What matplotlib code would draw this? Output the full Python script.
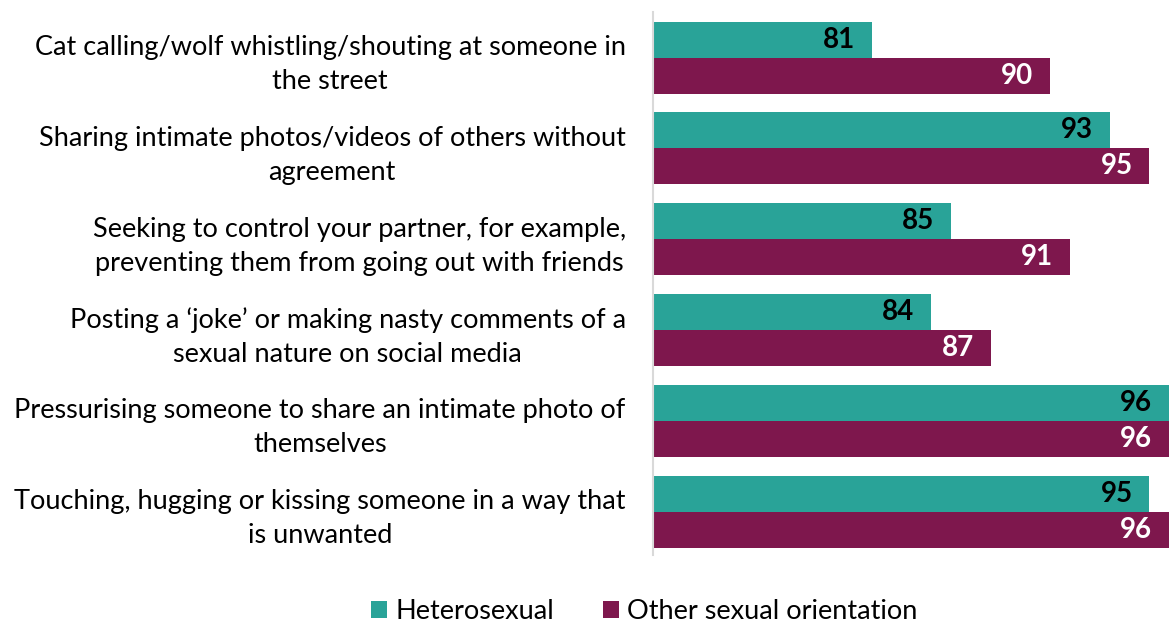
import matplotlib.pyplot as plt
import matplotlib.transforms as mtransforms
import numpy as np

plt.rcParams['font.family'] = ['Lato', 'DejaVu Sans']

categories = [
    "Cat calling/wolf whistling/shouting at someone in\nthe street",
    "Sharing intimate photos/videos of others without\nagreement",
    "Seeking to control your partner, for example,\npreventing them from going out with friends",
    "Posting a \u2018joke\u2019 or making nasty comments of a\nsexual nature on social media",
    "Pressurising someone to share an intimate photo of\nthemselves",
    "Touching, hugging or kissing someone in a way that\nis unwanted",
]
hetero = [81, 93, 85, 84, 96, 95]
other = [90, 95, 91, 87, 96, 96]

teal = '#29A398'
maroon = '#7E174D'

fig = plt.figure(figsize=(11.69, 6.23), dpi=100)
ax = fig.add_axes([0.559, 0.109, 0.441, 0.872])

y = np.arange(len(categories))
h = 0.396
xmin = 70
b1 = ax.barh(y - h/2, np.array(hetero) - xmin, left=xmin, height=h, color=teal, label='Heterosexual')
b2 = ax.barh(y + h/2, np.array(other) - xmin, left=xmin, height=h, color=maroon, label='Other sexual orientation')

for yi, v in zip(y, hetero):
    ax.annotate(str(v), (v, yi - h/2), xytext=(-12, 0), textcoords='offset points',
                ha='right', va='center', fontsize=20, fontweight='bold', color='black')
for yi, v in zip(y, other):
    ax.annotate(str(v), (v, yi + h/2), xytext=(-12, 0), textcoords='offset points',
                ha='right', va='center', fontsize=20, fontweight='bold', color='white')

ax.set_xlim(xmin, 96)
ax.set_ylim(5.476, -0.503)
ax.set_yticks(y)
ax.set_yticklabels(categories, fontsize=19.5, ha='right', linespacing=1.45)
# nudge the category labels up a few pixels
shift = mtransforms.ScaledTranslation(0, 4 / 100, fig.dpi_scale_trans)
for lab in ax.get_yticklabels():
    lab.set_multialignment('center')
    lab.set_transform(lab.get_transform() + shift)
ax.tick_params(axis='y', length=0, pad=20)
ax.set_xticks([])
for s in ['top', 'right', 'bottom']:
    ax.spines[s].set_visible(False)
ax.spines['left'].set_color('#d9d9d9')
ax.spines['left'].set_linewidth(1.5)

fig.legend(handles=[b1, b2], loc='center', bbox_to_anchor=(0.551, 0.018), ncol=2,
           frameon=False, fontsize=19.5, handlelength=0.6, handleheight=0.6,
           handletextpad=0.3, columnspacing=1.8)

fig.savefig('out.png', dpi=100)
